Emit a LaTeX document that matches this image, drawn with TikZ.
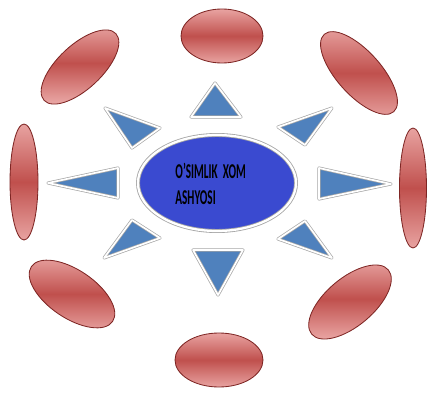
\documentclass[tikz,border=0pt]{standalone}
\usepackage{fontspec}
\setmainfont{Carlito}
\usetikzlibrary{shapes.geometric}
\definecolor{corefill}{HTML}{3A4AD0}
\definecolor{rayfill}{HTML}{4F81BD}
\definecolor{petalmid}{HTML}{C0504D}
\definecolor{petaledge}{HTML}{E8A3A1}
\definecolor{petalborder}{HTML}{7E2624}
\definecolor{rimgray}{HTML}{A6A6A6}
\tikzset{
  core/.style={ellipse, fill=corefill, draw=rimgray, double=white, double distance=1.6pt, line width=0.6pt, minimum width=3.95cm, minimum height=2.4cm, inner sep=0pt},
  ray/.style={fill=rayfill, draw=rimgray, double=white, double distance=1.2pt, line width=0.5pt, line join=round},
  petal/.style={ellipse, top color=petaledge, bottom color=petaledge, middle color=petalmid, draw=petalborder, line width=0.6pt, inner sep=0pt},
  coretext/.style={anchor=west, align=left, xscale=0.53, font=\fontsize{15}{19}\selectfont\bfseries, text=black}
}

\begin{document}
\begin{tikzpicture}

\useasboundingbox (0,0) rectangle (10.7,9.8);

\foreach \ax/\ay/\bx/\by/\cx/\cy in {5.375/7.725/4.775/6.875/6.025/6.875,
  5.45/2.425/4.825/3.55/6.075/3.55,
  9.775/5.2/7.975/5.6/7.975/4.825,
  1.2/5.225/2.95/5.6/2.95/4.85,
  8.3/7.1/6.95/6.625/7.625/6.175,
  2.625/7.1/4.0/6.6/3.3/6.1,
  8.3/3.35/6.95/3.825/7.625/4.275,
  2.6/3.35/4.0/3.85/3.3/4.3} {
  \draw[ray] (\ax,\ay) -- (\bx,\by) -- (\cx,\cy) -- cycle;
}

\node[core] (core) at (5.425,5.225) {};
\node[coretext] (title) at (4.32,5.2) {O'SIMLIK\ \ XOM\\ASHYOSI};

\node[petal, minimum width=2.05cm, minimum height=1.35cm] (pn) at (5.55,8.9) {};
\node[petal, minimum width=2.6cm, minimum height=1.1cm, rotate=-48] (pne) at (8.975,7.975) {};
\node[petal, minimum width=0.675cm, minimum height=3.0cm] (pe) at (10.325,5.1) {};
\node[petal, minimum width=2.5cm, minimum height=1.2cm, rotate=40] (pse) at (8.75,2.25) {};
\node[petal, minimum width=2.2cm, minimum height=1.35cm] (ps) at (5.475,0.8) {};
\node[petal, minimum width=2.45cm, minimum height=1.2cm, rotate=-34] (psw) at (1.8,2.45) {};
\node[petal, minimum width=0.7cm, minimum height=2.9cm] (pw) at (0.6,5.25) {};
\node[petal, minimum width=2.45cm, minimum height=1.1cm, rotate=43] (pnw) at (2.0,8.125) {};

\end{tikzpicture}
\end{document}
